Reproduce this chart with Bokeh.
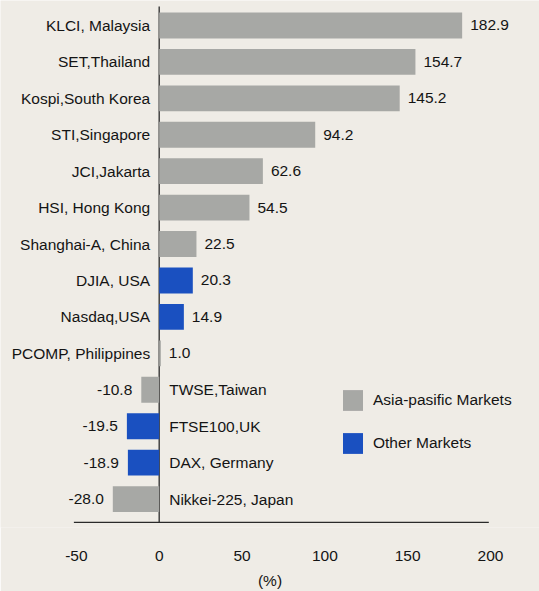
from bokeh.plotting import figure
from bokeh.models import ColumnDataSource, Range1d, FixedTicker, Legend, LegendItem
from bokeh.core.properties import value
from bokeh.embed import file_html
from bokeh.resources import INLINE

# ---- data ----
markets = ["KLCI, Malaysia", "SET,Thailand", "Kospi,South Korea", "STI,Singapore",
           "JCI,Jakarta", "HSI, Hong Kong", "Shanghai-A, China", "DJIA, USA",
           "Nasdaq,USA", "PCOMP, Philippines", "TWSE,Taiwan", "FTSE100,UK",
           "DAX, Germany", "Nikkei-225, Japan"]
changes = [182.9, 154.7, 145.2, 94.2, 62.6, 54.5, 22.5, 20.3, 14.9, 1.0,
           -10.8, -19.5, -18.9, -28.0]
groups = ["Asia", "Asia", "Asia", "Asia", "Asia", "Asia", "Asia", "Other",
          "Other", "Asia", "Asia", "Other", "Other", "Asia"]
group_names = {"Asia": "Asia-pasific Markets", "Other": "Other Markets"}
x_ticks = [-50, 0, 50, 100, 150, 200]
x_tick_labels = ["-50", "0", "50", "100", "150", "200"]
x_axis_title = "(%)"

BG = "#efece6"
GRAY = "#a7a8a5"
BLUE = "#1a50c0"
TXT = "#141414"
FONT = value("Liberation Sans")
FS = "15.5px"

pos = list(range(len(markets)))

p = figure(width=539, height=591, output_backend="svg", toolbar_location=None,
           x_range=Range1d(-95.8, 229.6), y_range=Range1d(13.78, -0.685),
           min_border_left=0, min_border_right=0, min_border_top=0,
           min_border_bottom=63)
p.background_fill_color = BG
p.border_fill_color = BG
p.outline_line_color = None
p.xgrid.visible = False
p.ygrid.visible = False
p.yaxis.visible = False

xa = p.xaxis[0]
xa.ticker = FixedTicker(ticks=x_ticks)
xa.major_label_overrides = {t: s for t, s in zip(x_ticks, x_tick_labels)}
xa.axis_line_color = None
xa.major_tick_line_color = None
xa.minor_tick_line_color = None
xa.major_label_text_font = "Liberation Sans"
xa.major_label_text_font_size = FS
xa.major_label_text_color = TXT
xa.major_label_standoff = 17
xa.axis_label = x_axis_title
xa.axis_label_text_font = "Liberation Sans"
xa.axis_label_text_font_size = FS
xa.axis_label_text_font_style = "normal"
xa.axis_label_text_color = TXT
xa.axis_label_standoff = 8

# axes lines
p.segment(x0=[x_ticks[0] - 1.5], y0=[13.64], x1=[x_ticks[-1] - 1], y1=[13.64],
          line_color="#2a2a2a", line_width=1.3)
p.segment(x0=[0], y0=[-0.52], x1=[0], y1=[13.64], line_color="#2a2a2a", line_width=1.3)

renderers = {}
for g, col in [("Asia", GRAY), ("Other", BLUE)]:
    idx = [i for i in pos if groups[i] == g]
    src = ColumnDataSource(dict(y=[pos[i] for i in idx], right=[changes[i] for i in idx]))
    renderers[g] = p.hbar(y="y", left=0, right="right", height=0.71, source=src,
                          fill_color=col, line_color=None)

# labels
pos_idx = [i for i in pos if changes[i] >= 0]
neg_idx = [i for i in pos if changes[i] < 0]
psrc = ColumnDataSource(dict(y=[pos[i] for i in pos_idx], v=[changes[i] for i in pos_idx],
                             name=[markets[i] for i in pos_idx],
                             lab=["%.1f" % changes[i] for i in pos_idx],
                             zero=[0] * len(pos_idx)))
nsrc = ColumnDataSource(dict(y=[pos[i] for i in neg_idx], v=[changes[i] for i in neg_idx],
                             name=[markets[i] for i in neg_idx],
                             lab=["%.1f" % changes[i] for i in neg_idx],
                             zero=[0] * len(neg_idx)))
common = dict(text_font=FONT, text_font_size=FS, text_color=TXT, text_baseline="middle")
p.text(x="zero", y="y", text="name", source=psrc, text_align="right", x_offset=-9, **common)
p.text(x="v", y="y", text="lab", source=psrc, text_align="left", x_offset=8, **common)
p.text(x="v", y="y", text="lab", source=nsrc, text_align="right", x_offset=-9, **common)
p.text(x="zero", y="y", text="name", source=nsrc, text_align="left", x_offset=10, **common)

legend = Legend(items=[LegendItem(label=group_names["Asia"], renderers=[renderers["Asia"]]),
                       LegendItem(label=group_names["Other"], renderers=[renderers["Other"]])],
                location=(340, 71), orientation="vertical",
                glyph_width=25, glyph_height=26, label_standoff=8, spacing=17,
                padding=0, margin=0, background_fill_alpha=0, border_line_color=None,
                label_text_font="Liberation Sans", label_text_font_size=FS,
                label_text_color=TXT)
p.add_layout(legend, "center")

open("out.html", "w").write(file_html(p, INLINE))
